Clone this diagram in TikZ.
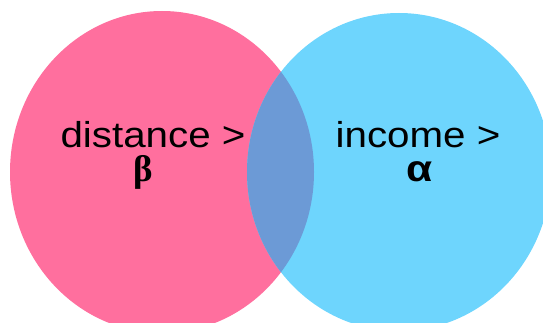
\documentclass[tikz,border=0pt]{standalone}
\usepackage{fontspec}
\setmainfont{Liberation Sans}
\newfontfamily\greekserif{Liberation Serif}
\definecolor{pinkfill}{RGB}{255,111,158}
\definecolor{cyanfill}{RGB}{110,213,253}
\definecolor{overlapfill}{RGB}{108,154,214}
\tikzset{
  lbl/.style={anchor=base, inner sep=0pt, font=\fontsize{36}{40}\selectfont},
  glbl/.style={anchor=base, inner sep=0pt, font=\fontsize{37}{40}\selectfont\bfseries}
}
\begin{document}
\begin{tikzpicture}[x=1pt,y=-1pt]
\useasboundingbox (0,0) rectangle (543,323);
\clip (0,0) rectangle (543,323);
\fill[pinkfill] (162,172) ellipse [x radius=152, y radius=161];
\fill[cyanfill] (399,172) ellipse [x radius=152, y radius=159];
\begin{scope}
  \clip (162,172) ellipse [x radius=152, y radius=161];
  \fill[overlapfill] (399,172) ellipse [x radius=152, y radius=159];
\end{scope}
\node[lbl] (dist) at (153,148) {\scalebox{1.12}[1]{distance >}};
\node[glbl] (beta) at (143,182) {\greekserif β};
\node[lbl] (inc) at (418,148) {\scalebox{1.12}[1]{income >}};
\node[glbl] (alpha) at (420,182) {\scalebox{1.15}[1]{α}};
\end{tikzpicture}
\end{document}
